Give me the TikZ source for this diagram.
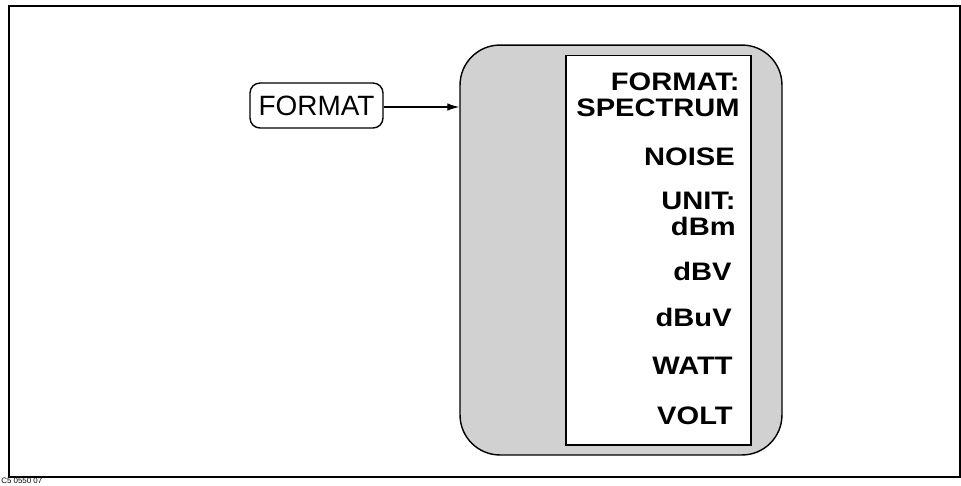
\documentclass[tikz,border=0pt]{standalone}
\usepackage{fontspec}
\setmainfont{Liberation Sans}
\newfontfamily\keyfont{Liberation Sans}[FakeStretch=1.15]
\usetikzlibrary{arrows.meta,positioning}

\begin{document}
\begin{tikzpicture}[x=0.02cm, y=-0.02cm, >={Latex[length=2.4mm, width=1.5mm]},
  frame/.style={draw, line width=0.8pt},
  hardkey/.style={draw, line width=0.8pt, rounded corners=2mm, minimum width=2.66cm, minimum height=0.9cm, inner sep=0pt, font=\fontsize{15.9}{17}\selectfont},
  menubox/.style={draw, line width=0.8pt, fill=black!18, rounded corners=8mm, minimum width=6.44cm, minimum height=8.2cm},
  panel/.style={draw, line width=0.6pt, fill=white, minimum width=3.7cm, minimum height=7.8cm},
  softkey/.style={anchor=east, inner sep=0pt, align=right, font=\keyfont\bfseries\fontsize{14.4}{14.8}\selectfont},
  link/.style={->, line width=0.7pt}]
\useasboundingbox (0,0) rectangle (961,485);
\draw[frame] (9,6) rectangle (960,477);
\node[font=\fontsize{4.5}{5}\selectfont, anchor=west, inner sep=0pt] (figid) at (1,481) {C5 0550 07};
% hardkey and softkey menu
\node[hardkey] (format) at (316.5,105.5) {FORMAT};
\node[menubox] (menu) at (621,250) {};
\node[panel] (keys) at (658.5,250) {};
\draw[link] (format.east |- 0,107) -- (menu.west |- 0,107);
% softkey labels
\node[softkey] (k1) at (740,95) {FORMAT:\\SPECTRUM};
\node[softkey] (k2) at (735,157) {NOISE};
\node[softkey] (k3) at (736,214) {UNIT:\\dBm};
\node[softkey] (k4) at (732,271) {dBV};
\node[softkey] (k5) at (732,317) {dBuV};
\node[softkey] (k6) at (733,366) {WATT};
\node[softkey] (k7) at (733,416) {VOLT};
\end{tikzpicture}
\end{document}
